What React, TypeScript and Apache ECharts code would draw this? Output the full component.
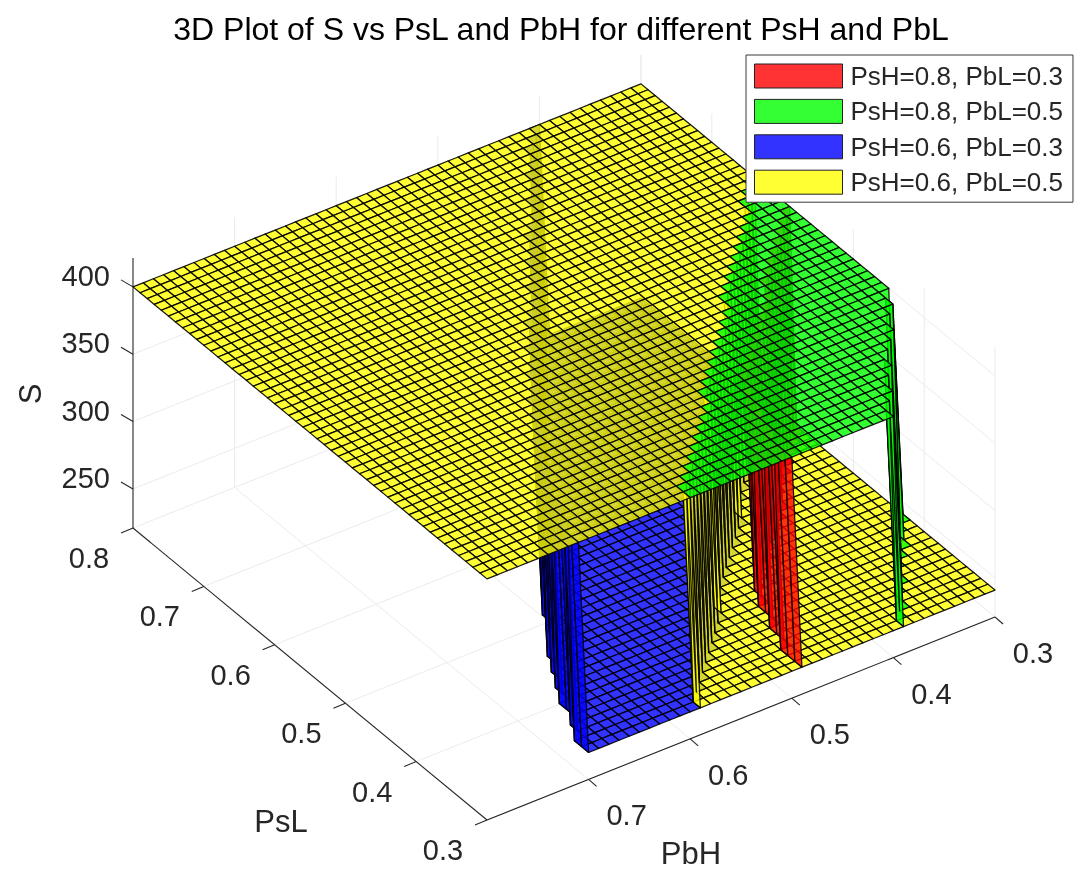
import React, { useEffect, useRef } from "react";
import * as echarts from "echarts";

// ---------------- axes ----------------
const PSL_TICKS = [0.3, 0.4, 0.5, 0.6, 0.7, 0.8];
const PBH_TICKS = [0.3, 0.4, 0.5, 0.6, 0.7];
const S_TICKS = [250, 300, 350, 400];
const PSL_LIMITS = [0.3, 0.8];
const PBH_LIMITS = [0.3, 0.8];
const S_LIMITS = [221, 421.5];
const MESH_STEP = 0.01;

// ---------------- series ----------------
const SERIES_NAMES = [
  "PsH=0.8, PbL=0.3",
  "PsH=0.8, PbL=0.5",
  "PsH=0.6, PbL=0.3",
  "PsH=0.6, PbL=0.5",
];
const SERIES_RGB = [
  [255, 0, 0],
  [0, 255, 0],
  [0, 0, 255],
  [255, 255, 0],
];
const S_HIGH = [400, 400, 400, 400];
const S_LOW = [241, 241, 241, 241];
// PbH at which S jumps from its low level (below) to its high level (above),
// read at each PsL tick (0.3 ... 0.8)
const JUMP_PBH_RED = [0.5, 0.47, 0.38, 0.29, 0.2, 0.11];
const JUMP_PBH_GREEN = [0.4, 0.33, 0.26, 0.19, 0.12, 0.05];
const JUMP_PBH_BLUE = [0.71, 0.67, 0.61, 0.54, 0.47, 0.4];
const JUMP_PBH_YELLOW = [0.6, 0.51, 0.42, 0.33, 0.24, 0.15];
const JUMP_PBH = [JUMP_PBH_RED, JUMP_PBH_GREEN, JUMP_PBH_BLUE, JUMP_PBH_YELLOW];

// ---------------- view (camera) ----------------
const VIEW = {
  corner: [487, 820], // page px of (PsL min, PbH max, S min)
  pslSpan: [-354, -292], // px for PsL min -> max
  pbhSpan: [508, -203], // px for PbH max -> min
  sPx: 1.347, // px per unit of S
  depth: [-417, -289.5, 0.9377],
};
const FACE_ALPHA = 0.8;
const FONT = '"Liberation Sans", Arial, Helvetica, sans-serif';
const TXT = "#262626";
const W = 1090;
const H = 876;

function fracs(psl: number, pbh: number) {
  const x = (psl - PSL_LIMITS[0]) / (PSL_LIMITS[1] - PSL_LIMITS[0]);
  const y = (PBH_LIMITS[1] - pbh) / (PBH_LIMITS[1] - PBH_LIMITS[0]);
  return [x, y];
}
function proj(psl: number, pbh: number, s: number): number[] {
  const [x, y] = fracs(psl, pbh);
  return [
    VIEW.corner[0] + VIEW.pslSpan[0] * x + VIEW.pbhSpan[0] * y,
    VIEW.corner[1] + VIEW.pslSpan[1] * x + VIEW.pbhSpan[1] * y - VIEW.sPx * (s - S_LIMITS[0]),
  ];
}
function depthOf(psl: number, pbh: number, s: number) {
  const [x, y] = fracs(psl, pbh);
  return VIEW.depth[0] * x + VIEW.depth[1] * y + VIEW.depth[2] * (s - S_LIMITS[0]);
}

function jumpAt(arr: number[], psl: number) {
  const step = PSL_TICKS[1] - PSL_TICKS[0];
  const t = (psl - PSL_TICKS[0]) / step;
  const i0 = Math.min(Math.max(Math.floor(t + 1e-9), 0), PSL_TICKS.length - 2);
  const f = t - i0;
  return arr[i0] + (arr[i0 + 1] - arr[i0]) * f;
}

// mesh sample positions
const N_PSL = Math.round((PSL_LIMITS[1] - PSL_LIMITS[0]) / MESH_STEP) + 1;
const N_PBH = Math.round((PBH_LIMITS[1] - PBH_LIMITS[0]) / MESH_STEP) + 1;
const PSL_MESH = Array.from({ length: N_PSL }, (_, i) => Math.round((PSL_LIMITS[0] + i * MESH_STEP) * 100) / 100);
const PBH_MESH = Array.from({ length: N_PBH }, (_, j) => Math.round((PBH_LIMITS[0] + j * MESH_STEP) * 100) / 100);

const Z: number[][][] = SERIES_NAMES.map((_, k) =>
  PSL_MESH.map((p) => {
    const b = jumpAt(JUMP_PBH[k], p);
    return PBH_MESH.map((h) => (h >= b - 1e-9 ? S_HIGH[k] : S_LOW[k]));
  })
);

type Cell = { k: number; pts: number[][]; d: number };
function buildCells(): Cell[] {
  const cells: Cell[] = [];
  for (let k = 0; k < SERIES_NAMES.length; k++) {
    for (let i = 0; i < N_PSL - 1; i++) {
      for (let j = 0; j < N_PBH - 1; j++) {
        const zs = [Z[k][i][j], Z[k][i + 1][j], Z[k][i + 1][j + 1], Z[k][i][j + 1]];
        let hidden = false;
        for (let m = k + 1; m < SERIES_NAMES.length && !hidden; m++) {
          if (
            Z[m][i][j] === zs[0] &&
            Z[m][i + 1][j] === zs[1] &&
            Z[m][i + 1][j + 1] === zs[2] &&
            Z[m][i][j + 1] === zs[3]
          )
            hidden = true;
        }
        if (hidden) continue;
        const pts = [
          [PSL_MESH[i], PBH_MESH[j], zs[0]],
          [PSL_MESH[i + 1], PBH_MESH[j], zs[1]],
          [PSL_MESH[i + 1], PBH_MESH[j + 1], zs[2]],
          [PSL_MESH[i], PBH_MESH[j + 1], zs[3]],
        ];
        let d = 0;
        for (const p of pts) d += depthOf(p[0], p[1], p[2]) / 4;
        cells.push({ k, pts, d });
      }
    }
  }
  cells.sort((a, b) => a.d - b.d);
  return cells;
}

function rgba(rgb: number[], a: number) {
  return `rgba(${rgb[0]},${rgb[1]},${rgb[2]},${a})`;
}
function blendWhite(rgb: number[], a: number) {
  const c = rgb.map((v) => Math.round(v * a + 255 * (1 - a)));
  return `rgb(${c[0]},${c[1]},${c[2]})`;
}

function textEl(x: number, y: number, text: string, size: number, align: string, vAlign: string, rotation = 0, fill = TXT) {
  return {
    type: "text",
    x,
    y,
    rotation,
    style: {
      text,
      fill,
      fontSize: size,
      fontFamily: FONT,
      align,
      verticalAlign: vAlign,
      textAlign: align,
      textVerticalAlign: vAlign,
    },
  };
}

export default function App() {
  const ref = useRef<HTMLDivElement>(null);
  useEffect(() => {
    if (!ref.current) return;
    const chart = echarts.init(ref.current, null, { renderer: "svg" });
    const cells = buildCells();
    const cellData = cells.map((c) => {
      let u = 0,
        v = 0;
      for (const p of c.pts) {
        const q = proj(p[0], p[1], p[2]);
        u += q[0] / 4;
        v += q[1] / 4;
      }
      return [u, v];
    });

    const axesRender = (_params: any, api: any) => {
      const P = (a: number, b: number, s: number) => api.coord(proj(a, b, s));
      const children: any[] = [];
      const gridStyle = { stroke: "#ebebeb", lineWidth: 1 };
      const line = (p1: number[], p2: number[], style: any) => ({
        type: "line",
        shape: { x1: p1[0], y1: p1[1], x2: p2[0], y2: p2[1] },
        style,
      });
      const [pMin, pMax] = PSL_LIMITS;
      const [bMin, bMax] = PBH_LIMITS;
      const [sMin, sMax] = S_LIMITS;
      // grid: floor
      for (const t of PSL_TICKS) children.push(line(P(t, bMin, sMin), P(t, bMax, sMin), gridStyle));
      for (const t of PBH_TICKS) children.push(line(P(pMin, t, sMin), P(pMax, t, sMin), gridStyle));
      // grid: back-left wall (PsL = max)
      for (const t of PBH_TICKS) children.push(line(P(pMax, t, sMin), P(pMax, t, sMax), gridStyle));
      for (const t of S_TICKS) children.push(line(P(pMax, bMin, t), P(pMax, bMax, t), gridStyle));
      // grid: back-right wall (PbH = min)
      for (const t of PSL_TICKS) children.push(line(P(t, bMin, sMin), P(t, bMin, sMax), gridStyle));
      for (const t of S_TICKS) children.push(line(P(pMin, bMin, t), P(pMax, bMin, t), gridStyle));

      const axStyle = { stroke: TXT, lineWidth: 1.1 };
      children.push(line(P(pMax, bMax, sMin), P(pMax, bMax, sMax), axStyle)); // S axis
      children.push(line(P(pMin, bMax, sMin), P(pMax, bMax, sMin), axStyle)); // PsL axis
      children.push(line(P(pMin, bMin, sMin), P(pMin, bMax, sMin), axStyle)); // PbH axis

      for (const t of S_TICKS) {
        const q = P(pMax, bMax, t);
        children.push(line(q, [q[0] - 12, q[1] - 7], axStyle));
        children.push(textEl(q[0] - 23, q[1] - 11, String(t), 29, "right", "middle"));
      }
      for (const t of PSL_TICKS) {
        const q = P(t, bMax, sMin);
        children.push(line(q, [q[0] - 12, q[1] + 5], axStyle));
        children.push(textEl(q[0] - 44, q[1] + 30, t.toFixed(1), 29, "center", "middle"));
      }
      for (const t of PBH_TICKS) {
        const q = P(pMin, t, sMin);
        children.push(line(q, [q[0] + 8, q[1] + 7], axStyle));
        children.push(textEl(q[0] + 38, q[1] + 36, t.toFixed(1), 29, "center", "middle"));
      }
      const sName = api.coord([30, 394]);
      children.push(textEl(sName[0], sName[1], "S", 31, "center", "middle", Math.PI / 2));
      const pslName = api.coord([281, 821]);
      children.push(textEl(pslName[0], pslName[1], "PsL", 31, "center", "middle"));
      const pbhName = api.coord([691, 853]);
      children.push(textEl(pbhName[0], pbhName[1], "PbH", 31, "center", "middle"));
      return { type: "group", children };
    };

    const surfRender = (params: any, api: any) => {
      const c = cells[params.dataIndex];
      const points = c.pts.map((p) => api.coord(proj(p[0], p[1], p[2])));
      return {
        type: "polygon",
        shape: { points },
        style: {
          fill: rgba(SERIES_RGB[c.k], FACE_ALPHA),
          stroke: "rgba(0,0,0,0.9)",
          lineWidth: 1.25,
          lineJoin: "round",
        },
        silent: true,
      };
    };

    const option: any = {
      animation: false,
      grid: { left: 0, right: 0, top: 0, bottom: 0 },
      xAxis: { type: "value", min: 0, max: W, show: false },
      yAxis: { type: "value", min: 0, max: H, inverse: true, show: false },
      graphic: {
        elements: [
          {
            type: "text",
            x: 561,
            y: 29,
            style: {
              text: "3D Plot of S vs PsL and PbH for different PsH and PbL",
              fill: "#000",
              fontSize: 32,
              fontFamily: FONT,
              align: "center",
              verticalAlign: "middle",
              textAlign: "center",
              textVerticalAlign: "middle",
            },
          },
        ],
      },
      legend: {
        orient: "vertical",
        left: 746,
        top: 55,
        itemWidth: 88,
        itemHeight: 24,
        itemGap: 5.4,
        icon: "rect",
        selectedMode: false,
        backgroundColor: "#fff",
        borderColor: "#3a3a3a",
        borderWidth: 1,
        borderRadius: 0,
        padding: [6, 10, 5, 8],
        textStyle: { fontSize: 26, fontFamily: FONT, color: TXT, lineHeight: 30, padding: [0, 0, 0, 3] },
        data: SERIES_NAMES.map((n, k) => ({
          name: n,
          itemStyle: { color: blendWhite(SERIES_RGB[k], FACE_ALPHA), borderColor: "#222", borderWidth: 1 },
        })),
        z: 10,
      },
      series: [
        {
          type: "custom",
          name: "axes",
          coordinateSystem: "cartesian2d",
          data: [[500, 500]],
          renderItem: axesRender,
          silent: true,
          z: 1,
        },
        {
          type: "custom",
          name: "surfaces",
          coordinateSystem: "cartesian2d",
          data: cellData,
          encode: { x: 0, y: 1 },
          renderItem: surfRender,
          silent: true,
          z: 2,
        },
        ...SERIES_NAMES.map((n, k) => ({
          type: "custom",
          name: n,
          coordinateSystem: "cartesian2d",
          data: [],
          renderItem: () => null,
          itemStyle: { color: blendWhite(SERIES_RGB[k], FACE_ALPHA) },
        })),
      ],
    };
    chart.setOption(option);
    return () => chart.dispose();
  }, []);
  return <div ref={ref} style={{ position: "fixed", left: 0, top: 0, width: W, height: H }} />;
}
